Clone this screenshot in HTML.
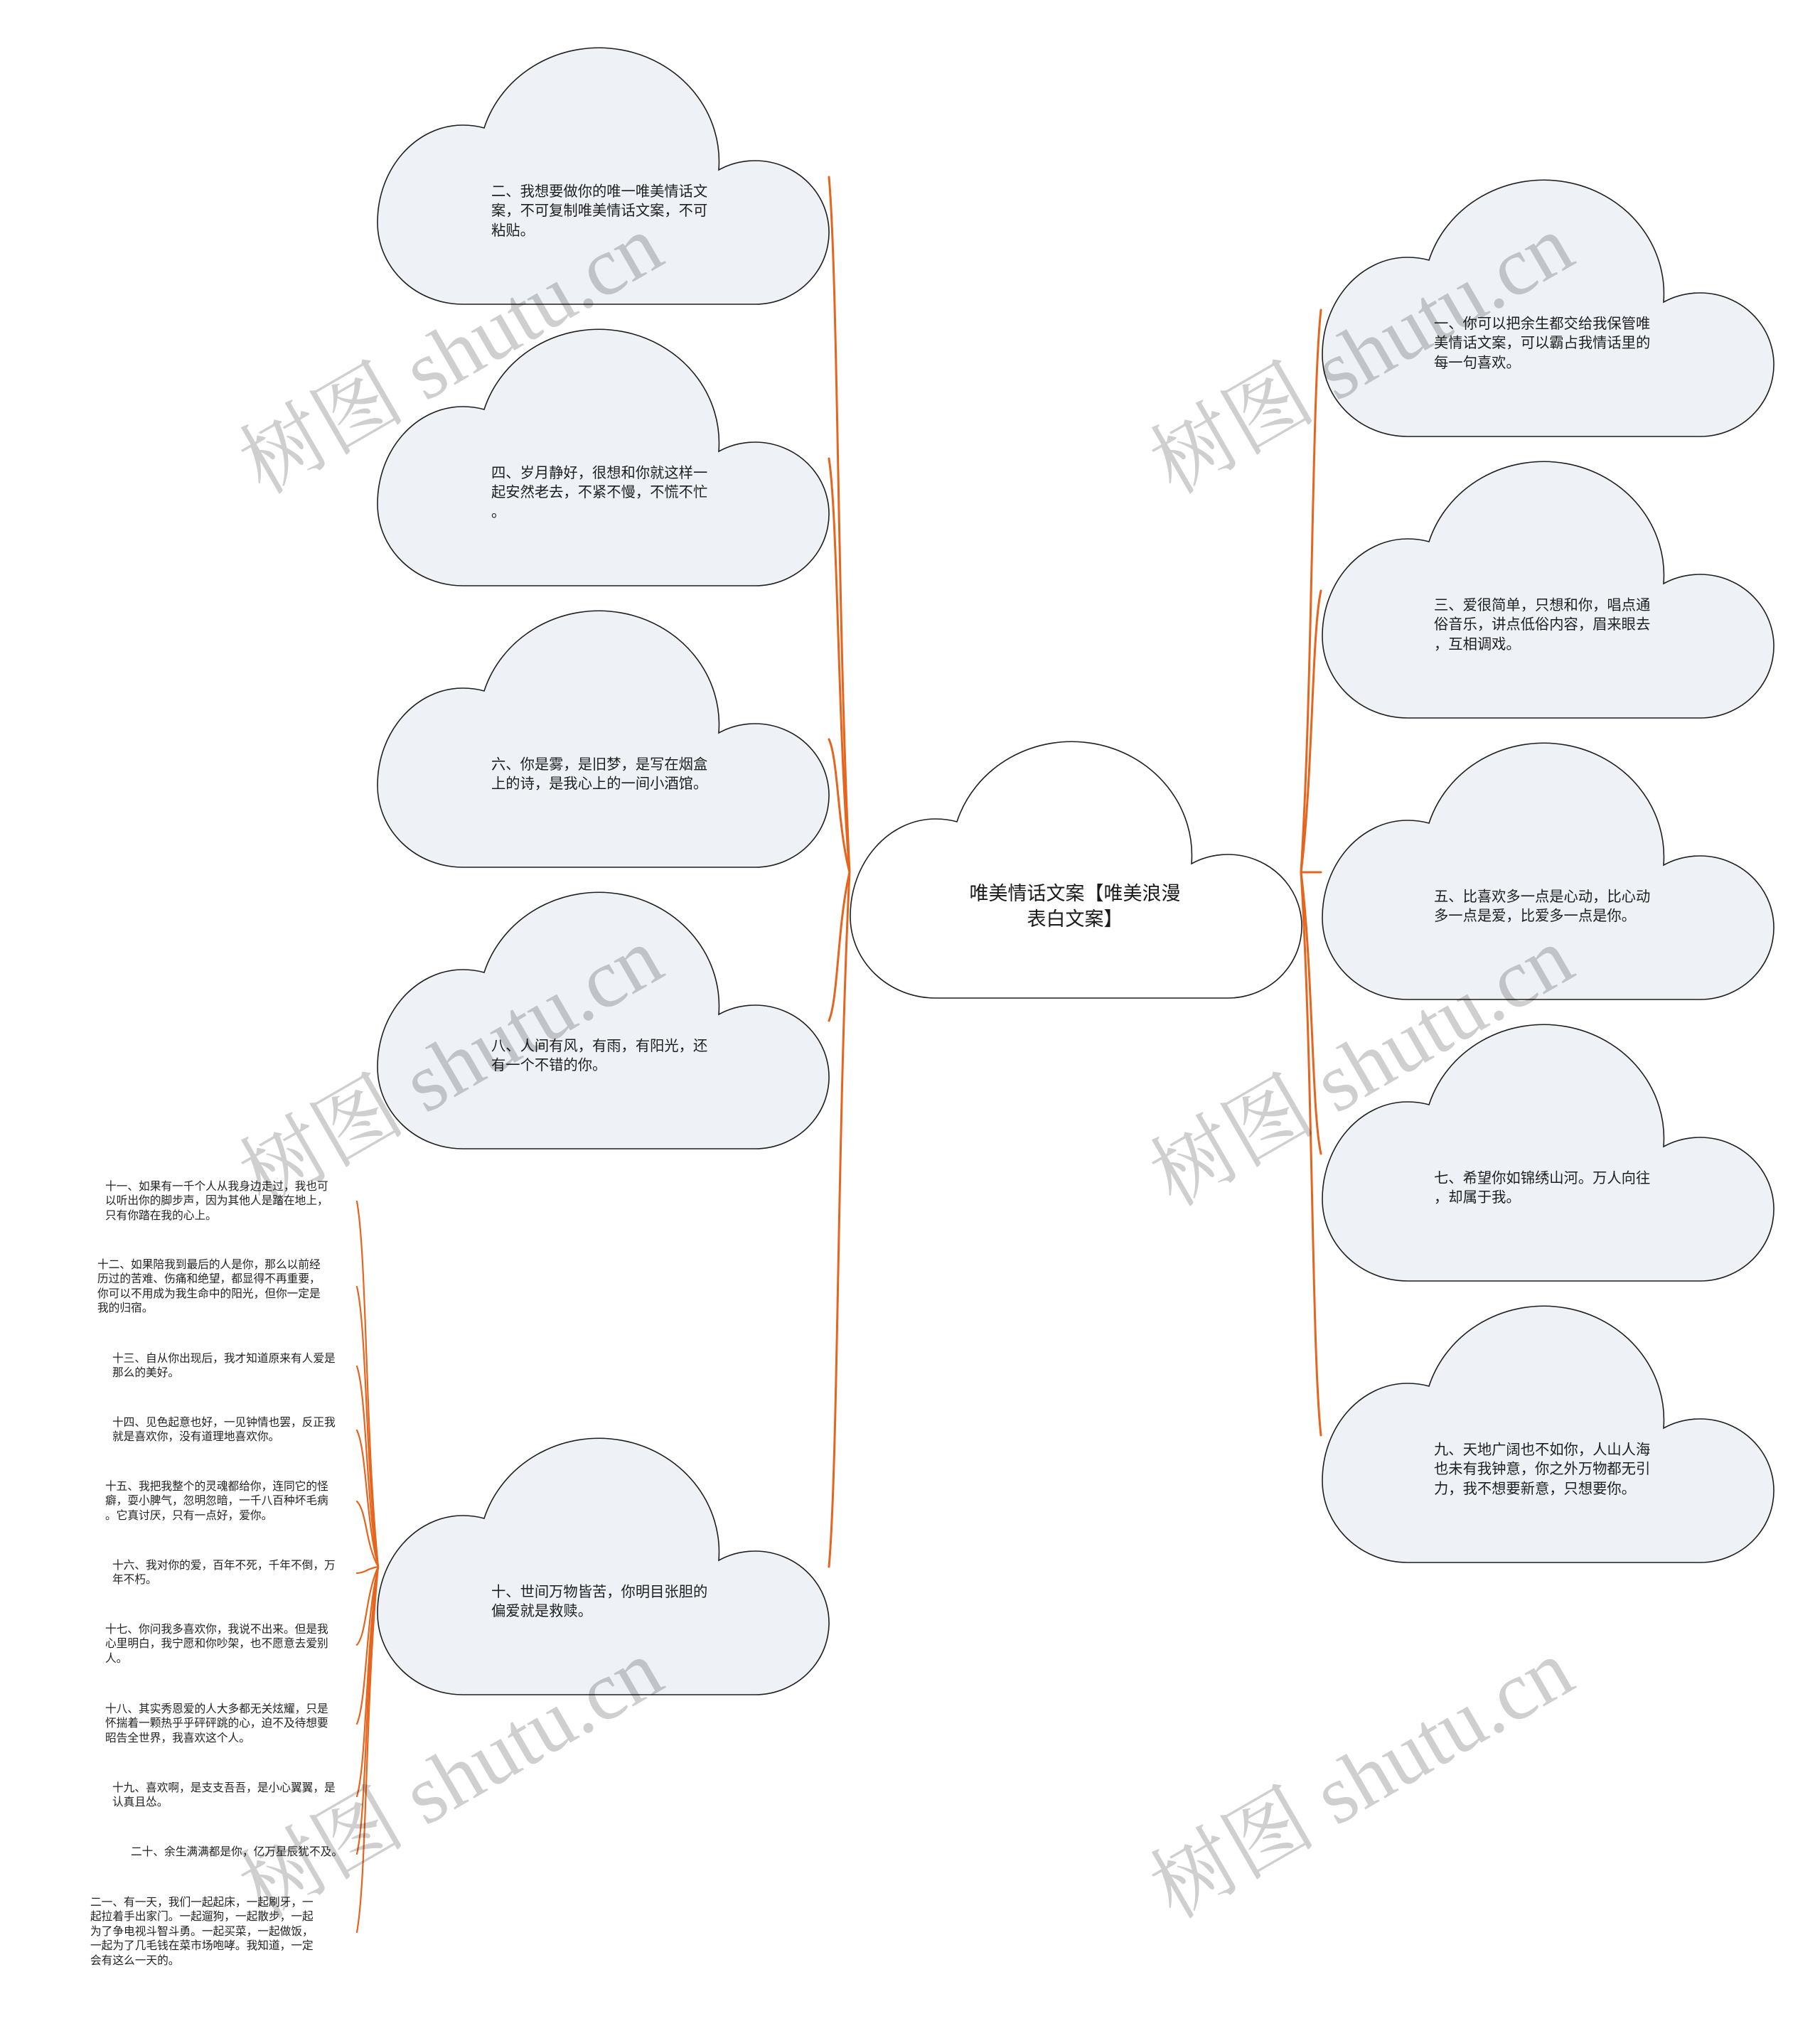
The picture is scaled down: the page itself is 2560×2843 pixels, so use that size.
<!DOCTYPE html>
<html lang="zh">
<head>
<meta charset="utf-8">
<style>
  html,body{margin:0;padding:0;background:#fff;}
  body{width:2560px;height:2843px;position:relative;overflow:hidden;
       font-family:"Liberation Sans","Noto Sans CJK SC",sans-serif;color:#1e1e1e;}
  svg{position:absolute;left:0;top:0;}
  .ct{position:absolute;height:200px;display:flex;flex-direction:column;justify-content:center;
      font-size:20.3px;line-height:27.5px;white-space:nowrap;}
  .main{position:absolute;left:1196px;width:632px;top:1175px;height:200px;display:flex;flex-direction:column;
      justify-content:center;text-align:center;font-size:27px;line-height:36px;white-space:nowrap;color:#1a1a1a;}
  .sm{position:absolute;font-size:15.7px;line-height:20.4px;white-space:nowrap;color:#222;}
</style>
</head>
<body>
<svg width="2560" height="2843" viewBox="0 0 2560 2843" xmlns="http://www.w3.org/2000/svg">
  <defs>
    <path id="cloud" d="M120 360 C54 360 0 309 0 245 C0 169 54 108 120 108 Q136 108 150 112 A169 160 0 0 1 480 171 A104 101 0 1 1 530 360 Z"/>
  </defs>
  <!-- connectors -->
  <g fill="none" stroke="#e5641e" stroke-width="3" stroke-linecap="round">
    <path d="M1195 1227 C1178 885 1179 396 1166 249"/>
    <path d="M1195 1227 C1178 1023 1179 732 1166 645"/>
    <path d="M1195 1227 C1178 1162 1179 1068 1166 1040"/>
    <path d="M1195 1227 C1178 1300 1179 1405 1166 1436"/>
    <path d="M1195 1227 C1178 1569 1179 2058 1166 2204"/>
    <path d="M1830 1227 C1847 950 1845 555 1858 436"/>
    <path d="M1830 1227 C1847 1088 1845 890 1858 831"/>
    <path d="M1830 1227 L1858 1227"/>
    <path d="M1830 1227 C1847 1366 1845 1564 1858 1623"/>
    <path d="M1830 1227 C1847 1504 1845 1900 1858 2019"/>
  </g>
  <g fill="none" stroke="#e5641e" stroke-width="2.2" stroke-linecap="round">
    <path d="M532 2204 C514 2024 516 1767 502 1690"/>
    <path d="M532 2204 C514 2066 516 1869 502 1810"/>
    <path d="M532 2204 C514 2105 516 1964 502 1922"/>
    <path d="M532 2204 C514 2137 516 2041 502 2012"/>
    <path d="M532 2204 C514 2172 516 2126 502 2112"/>
    <path d="M532 2204 C514 2207 516 2212 502 2213"/>
    <path d="M532 2204 C514 2243 516 2298 502 2314"/>
    <path d="M532 2204 C514 2281 516 2392 502 2425"/>
    <path d="M532 2204 C514 2317 516 2479 502 2527"/>
    <path d="M532 2204 C514 2345 516 2547 502 2608"/>
    <path d="M532 2204 C514 2384 516 2641 502 2718"/>
  </g>
  <!-- clouds -->
  <g stroke="#1f1f1f" stroke-width="1.6" fill="#eef1f5">
    <use href="#cloud" transform="translate(531,68)"/>
    <use href="#cloud" transform="translate(531,464)"/>
    <use href="#cloud" transform="translate(531,860)"/>
    <use href="#cloud" transform="translate(531,1256)"/>
    <use href="#cloud" transform="translate(531,2024)"/>
    <use href="#cloud" transform="translate(1860,254)"/>
    <use href="#cloud" transform="translate(1860,650)"/>
    <use href="#cloud" transform="translate(1860,1046)"/>
    <use href="#cloud" transform="translate(1860,1442)"/>
    <use href="#cloud" transform="translate(1860,1838)"/>
    <use href="#cloud" transform="translate(1196,1044)" fill="#ffffff"/>
  </g>
</svg>

<!-- center -->
<div class="main"><div>唯美情话文案【唯美浪漫</div><div>表白文案】</div></div>

<!-- left clouds -->
<div class="ct" style="left:691px;top:198px;">二、我想要做你的唯一唯美情话文<br>案，不可复制唯美情话文案，不可<br>粘贴。</div>
<div class="ct" style="left:691px;top:594px;">四、岁月静好，很想和你就这样一<br>起安然老去，不紧不慢，不慌不忙<br>。</div>
<div class="ct" style="left:691px;top:990px;">六、你是雾，是旧梦，是写在烟盒<br>上的诗，是我心上的一间小酒馆。</div>
<div class="ct" style="left:691px;top:1386px;">八、人间有风，有雨，有阳光，还<br>有一个不错的你。</div>
<div class="ct" style="left:691px;top:2154px;">十、世间万物皆苦，你明目张胆的<br>偏爱就是救赎。</div>

<!-- right clouds -->
<div class="ct" style="left:2017px;top:384px;">一、你可以把余生都交给我保管唯<br>美情话文案，可以霸占我情话里的<br>每一句喜欢。</div>
<div class="ct" style="left:2017px;top:780px;">三、爱很简单，只想和你，唱点通<br>俗音乐，讲点低俗内容，眉来眼去<br>，互相调戏。</div>
<div class="ct" style="left:2017px;top:1176px;">五、比喜欢多一点是心动，比心动<br>多一点是爱，比爱多一点是你。</div>
<div class="ct" style="left:2017px;top:1572px;">七、希望你如锦绣山河。万人向往<br>，却属于我。</div>
<div class="ct" style="left:2017px;top:1968px;">九、天地广阔也不如你，人山人海<br>也未有我钟意，你之外万物都无引<br>力，我不想要新意，只想要你。</div>

<!-- small list -->
<div class="sm" style="left:148px;top:1660px;">十一、如果有一千个人从我身边走过，我也可<br>以听出你的脚步声，因为其他人是踏在地上，<br>只有你踏在我的心上。</div>
<div class="sm" style="left:137px;top:1770px;">十二、如果陪我到最后的人是你，那么以前经<br>历过的苦难、伤痛和绝望，都显得不再重要，<br>你可以不用成为我生命中的阳光，但你一定是<br>我的归宿。</div>
<div class="sm" style="left:158px;top:1902px;">十三、自从你出现后，我才知道原来有人爱是<br>那么的美好。</div>
<div class="sm" style="left:158px;top:1992px;">十四、见色起意也好，一见钟情也罢，反正我<br>就是喜欢你，没有道理地喜欢你。</div>
<div class="sm" style="left:148px;top:2082px;">十五、我把我整个的灵魂都给你，连同它的怪<br>癖，耍小脾气，忽明忽暗，一千八百种坏毛病<br>。它真讨厌，只有一点好，爱你。</div>
<div class="sm" style="left:158px;top:2193px;">十六、我对你的爱，百年不死，千年不倒，万<br>年不朽。</div>
<div class="sm" style="left:148px;top:2283px;">十七、你问我多喜欢你，我说不出来。但是我<br>心里明白，我宁愿和你吵架，也不愿意去爱别<br>人。</div>
<div class="sm" style="left:148px;top:2395px;">十八、其实秀恩爱的人大多都无关炫耀，只是<br>怀揣着一颗热乎乎砰砰跳的心，迫不及待想要<br>昭告全世界，我喜欢这个人。</div>
<div class="sm" style="left:158px;top:2506px;">十九、喜欢啊，是支支吾吾，是小心翼翼，是<br>认真且怂。</div>
<div class="sm" style="left:184px;top:2596px;">二十、余生满满都是你，亿万星辰犹不及。</div>
<div class="sm" style="left:127px;top:2667px;">二一、有一天，我们一起起床，一起刷牙，一<br>起拉着手出家门。一起遛狗，一起散步，一起<br>为了争电视斗智斗勇。一起买菜，一起做饭，<br>一起为了几毛钱在菜市场咆哮。我知道，一定<br>会有这么一天的。</div>

<!-- watermarks -->
<svg width="2560" height="2843" viewBox="0 0 2560 2843" xmlns="http://www.w3.org/2000/svg" style="pointer-events:none;">
  <g font-family="'Liberation Serif','Noto Serif CJK SC',serif" font-size="117" fill="#000" fill-opacity="0.19">
    <text x="370" y="697" transform="rotate(-30 370 697)">树图 shutu.cn</text>
    <text x="1651" y="697" transform="rotate(-30 1651 697)">树图 shutu.cn</text>
    <text x="370" y="1699" transform="rotate(-30 370 1699)">树图 shutu.cn</text>
    <text x="1651" y="1699" transform="rotate(-30 1651 1699)">树图 shutu.cn</text>
    <text x="370" y="2701" transform="rotate(-30 370 2701)">树图 shutu.cn</text>
    <text x="1651" y="2701" transform="rotate(-30 1651 2701)">树图 shutu.cn</text>
  </g>
</svg>
</body>
</html>
